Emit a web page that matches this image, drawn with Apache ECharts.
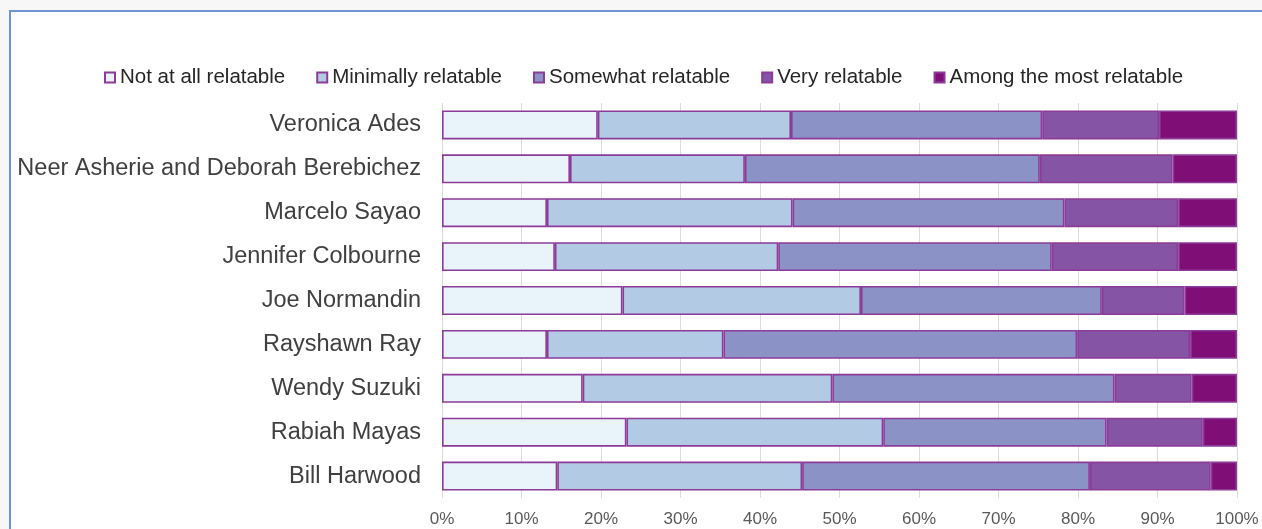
<!DOCTYPE html>
<html>
<head>
<meta charset="utf-8">
<script src="https://cdn.jsdelivr.net/npm/echarts@6/dist/echarts.min.js"></script>
<style>
html,body{margin:0;padding:0;background:#f7f7f7;}
#chart{width:1262px;height:529px;}
</style>
</head>
<body>
<div id="chart"></div>
<script>
const categories = [
  "Veronica Ades",
  "Neer Asherie and Deborah Berebichez",
  "Marcelo Sayao",
  "Jennifer Colbourne",
  "Joe Normandin",
  "Rayshawn Ray",
  "Wendy Suzuki",
  "Rabiah Mayas",
  "Bill Harwood"
];
const seriesNames = ["Not at all relatable", "Minimally relatable", "Somewhat relatable", "Very relatable", "Among the most relatable"];
const notAtAll   = [19.6, 16.1, 13.2, 14.2, 22.7, 13.2, 17.7, 23.2, 14.5];
const minimally  = [24.3, 22.0, 30.9, 28.1, 30.0, 22.2, 31.4, 32.3, 30.8];
const somewhat   = [31.6, 37.1, 34.2, 34.4, 30.3, 44.5, 35.5, 28.1, 36.2];
const very       = [14.7, 16.7, 14.3, 15.9, 10.4, 14.2, 9.7, 12.1, 15.2];
const amongMost  = [9.8, 8.1, 7.4, 7.4, 6.6, 5.9, 5.7, 4.3, 3.3];
const xTicks = [0, 10, 20, 30, 40, 50, 60, 70, 80, 90, 100];

const colors = ["#e9f3fa", "#b3cae4", "#8b92c6", "#8554a4", "#7f0f77"];
const allData = [notAtAll, minimally, somewhat, very, amongMost];

const chart = echarts.init(document.getElementById('chart'));
const FONT = '"Liberation Sans", Arial, sans-serif';

chart.setOption({
  backgroundColor: '#f7f7f7',
  animation: false,
  graphic: [{
    type: 'rect',
    z: -100,
    shape: {x: 10, y: 11, width: 1270, height: 540},
    style: {fill: '#ffffff', stroke: '#6f94d6', lineWidth: 2}
  }],
  legend: {
    left: 99,
    top: 62,
    itemWidth: 10,
    itemHeight: 10,
    itemGap: 31,
    icon: 'rect',
    textStyle: {fontFamily: FONT, fontSize: 20.5, color: '#262626'},
    data: seriesNames
  },
  grid: {left: 442, right: 25, top: 103, bottom: 31, containLabel: false},
  xAxis: {
    type: 'value',
    min: 0, max: 100, interval: 10,
    axisLine: {show: false},
    axisTick: {show: false},
    splitLine: {show: true, lineStyle: {color: '#dcdcdc', width: 1}},
    axisLabel: {
      fontFamily: FONT, fontSize: 17, color: '#595959', margin: 13,
      formatter: function (v) { return xTicks.indexOf(v) >= 0 ? v + '%' : ''; }
    }
  },
  yAxis: {
    type: 'category',
    inverse: true,
    data: categories,
    axisLine: {show: false},
    axisTick: {show: false},
    axisLabel: {fontFamily: FONT, fontSize: 23.5, color: '#404040', margin: 21}
  },
  series: seriesNames.map(function (name, i) {
    return {
      name: name,
      type: 'bar',
      stack: 'total',
      barWidth: '66%',
      itemStyle: {color: colors[i], borderColor: '#8c3b99', borderWidth: 1.6},
      data: allData[i]
    };
  })
});
</script>
</body>
</html>
